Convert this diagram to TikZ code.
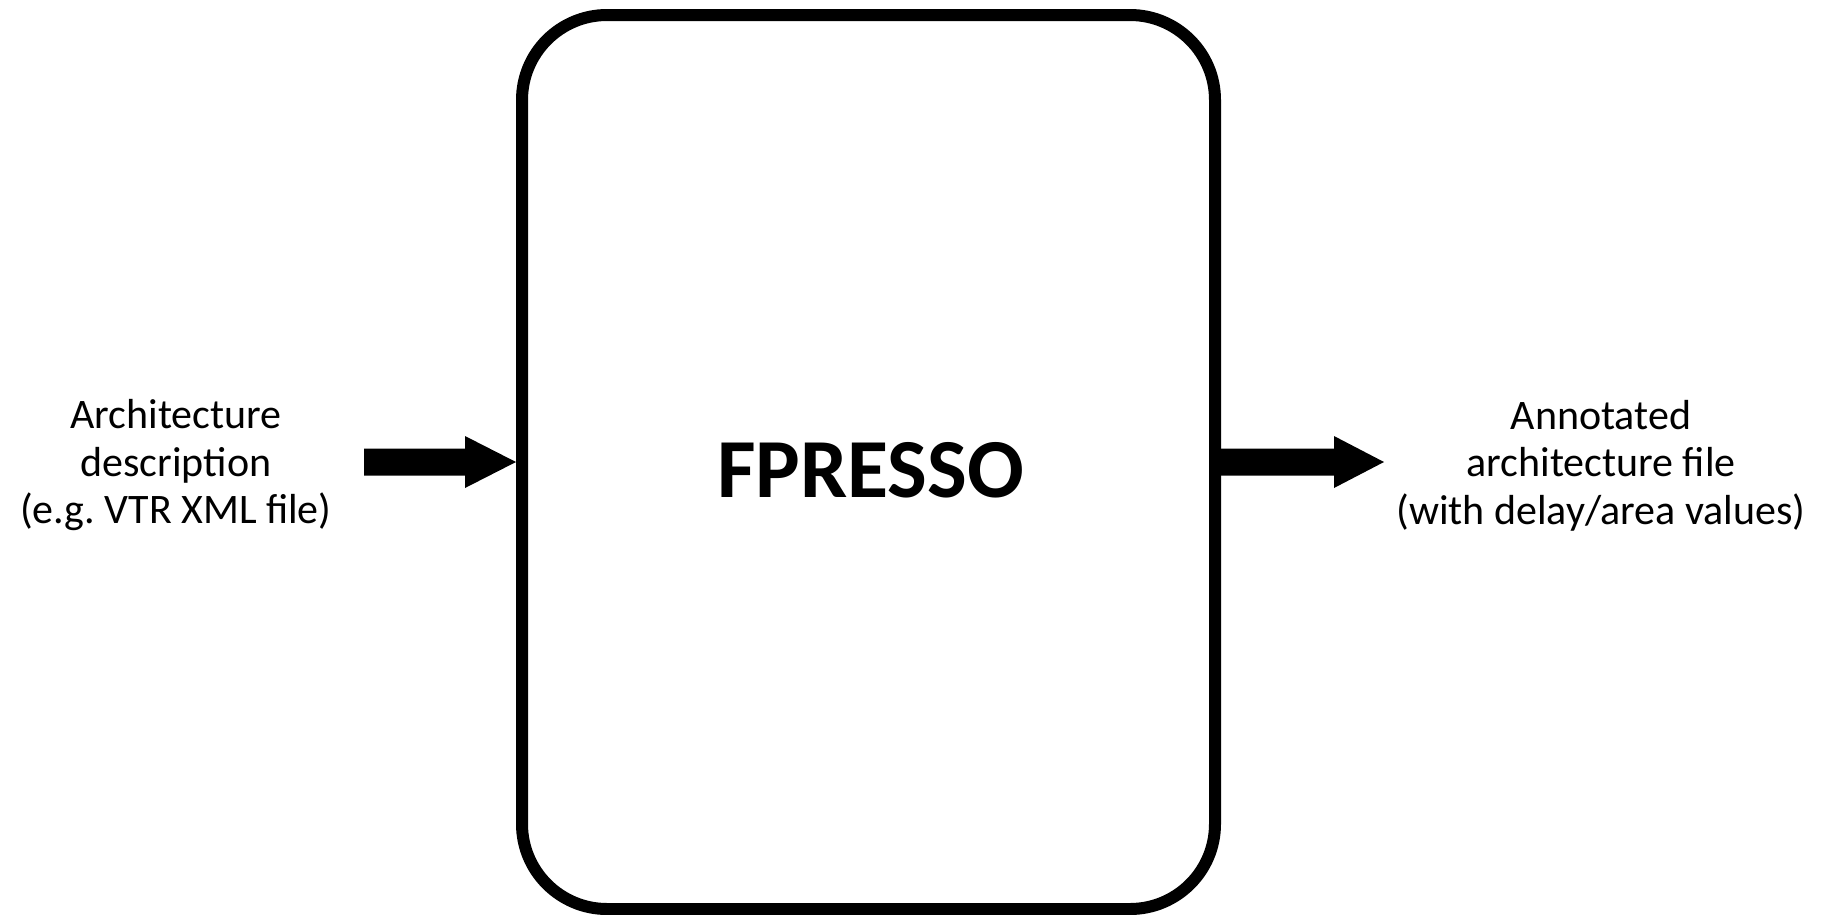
\documentclass[tikz,border=0pt]{standalone}
\usepackage{fontspec}
\setmainfont{Carlito}
\frenchspacing
\begin{document}
\begin{tikzpicture}[x=1pt,y=-1pt,
  lbl/.style={align=center,font=\fontsize{42}{47.5}\selectfont,inner sep=0pt,anchor=base},
  mainbox/.style={draw,line width=12pt,rounded corners=85pt,minimum width=693pt,minimum height=894pt,inner sep=0pt},
  blockarrow/.style={fill=black}]
\useasboundingbox (0,0) rectangle (1832,914);
\node[mainbox] (box) at (868.5,462) {};
\node[font=\fontsize{84}{100}\selectfont\bfseries,anchor=base,inner sep=0pt] (title) at (870.5,497) {FPRESSO};
\node[lbl] (in) at (176,523.5) {Architecture\\description\\(e.g. VTR XML file)};
\node[lbl] (out) at (1601,524) {Annotated\\architecture file\\(with delay/area values)};
\coordinate (inS) at (364,462);
\coordinate (outE) at (1384,462);
% input arrow (tip touches the outer edge of the box)
\fill[blockarrow] (inS) ++(0,-13.5) -- ++(101,0) -- ++(0,-12.5) -- (box.west) -- ++(-51,26) -- ++(0,-12.5) -- ++(-101,0) -- cycle;
% output arrow
\fill[blockarrow] (box.east) ++(0,-13.5) -- ++(113,0) -- ++(0,-12.5) -- (outE) -- ++(-50,26) -- ++(0,-12.5) -- ++(-113,0) -- cycle;
\end{tikzpicture}
\end{document}
